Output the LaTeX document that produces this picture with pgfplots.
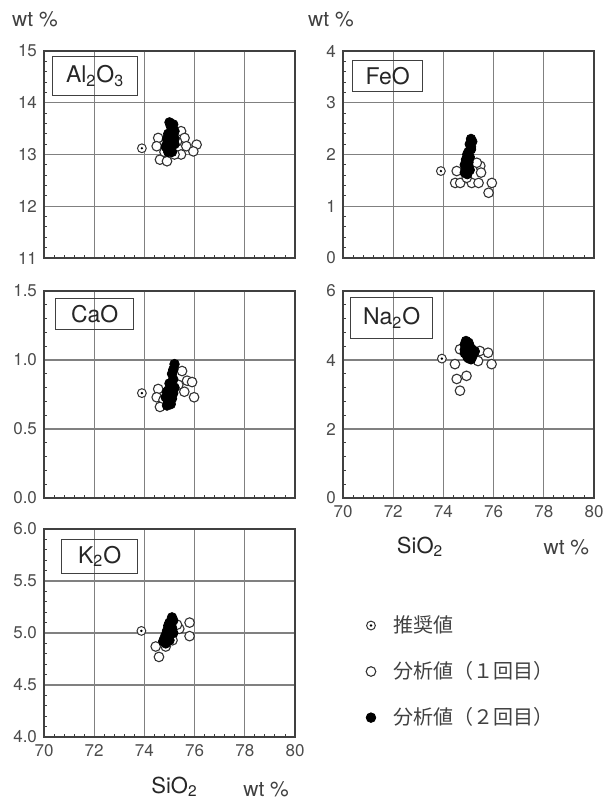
\documentclass[border=0pt]{standalone}
\usepackage{fontspec}
\setmainfont{TeX Gyre Heros}
\newfontfamily\jp{Noto Sans CJK JP}
\usepackage{pgfplots}
\pgfplotsset{compat=1.18}
\pgfdeclareplotmark{odot}{%
  \pgfpathcircle{\pgfpointorigin}{\pgfplotmarksize}\pgfusepathqfillstroke
  \pgfpathcircle{\pgfpointorigin}{0.3\pgfplotmarksize}\pgfsetfillcolor{black}\pgfusepathqfill}
\pgfplotsset{
  panel/.style={
    scale only axis, width=125.5pt, height=103.5pt, anchor=north west,
    xmin=70, xmax=80, xtick={70,72,...,80},
    minor x tick num=4, minor y tick num=4,
    grid=major, major grid style={black!50, line width=0.65pt},
    axis line style={black!75, line width=0.75pt},
    tick style={black!75, line width=0.45pt},
    tick align=inside, tick pos=left,
    major tick length=0pt, minor tick length=1.6pt,
    ticklabel style={font=\fontsize{8.5}{10}\selectfont, text=black!70},
    /pgf/number format/assume math mode=true,
    clip=false,
  },
  rec/.style={only marks, mark=odot, mark size=2.2pt, mark options={draw=black!80, fill=white, line width=0.5pt}},
  first/.style={only marks, mark=*, mark size=2.4pt, mark options={draw=black!80, fill=white, line width=0.55pt}},
  second/.style={only marks, mark=*, mark size=2.4pt, mark options={draw=black, fill=black}},
}
\tikzset{
  lab/.style={draw=black!75, line width=0.6pt, anchor=north west, inner sep=0pt, align=center, font=\fontsize{11.5}{13}\selectfont, text=black!85},
  unit/.style={font=\fontsize{10.5}{12}\selectfont, text=black!75},
}
\begin{document}
\begin{tikzpicture}
\path[use as bounding box] (0,0) rectangle (303pt,401pt);

% Al2O3
\begin{axis}[panel, at={(22pt,375.5pt)}, ymin=11, ymax=15, ytick={11,...,15}, xticklabels={}]
\addplot[rec] coordinates {(73.9,13.12)};
\addplot[first] coordinates {(74.55,13.32)(74.49,13.16)(74.62,12.9)(74.9,12.87)(75.46,13.45)(75.6,13.32)(75.67,13.16)(76.08,13.19)(75.95,13.06)(75.46,13.0)(75.2,13.0)(74.8,13.05)(75.3,13.25)};
\addplot[second] coordinates {(75.0,13.62)(75.15,13.58)(75.1,13.5)(75.2,13.45)(74.95,13.4)(75.15,13.35)(74.9,13.3)(75.05,13.25)(75.2,13.2)(74.85,13.15)(75.0,13.1)(75.1,13.05)(75.2,13.3)(74.9,13.2)(75.05,13.55)(75.05,13.4)(74.95,13.05)};
\node[lab, minimum width=42.5pt, minimum height=19.5pt] at (rel axis cs:0.032,0.976) {Al\textsubscript{2}O\textsubscript{3}};
\node[unit] at (rel axis cs:-0.036,1.155) {wt \%};
\end{axis}

% FeO
\begin{axis}[panel, at={(171.5pt,375.5pt)}, ymin=0, ymax=4, ytick={0,...,4}, xticklabels={}]
\addplot[rec] coordinates {(73.9,1.68)};
\addplot[first] coordinates {(74.53,1.68)(74.47,1.45)(74.67,1.45)(75.13,1.45)(75.4,1.45)(75.47,1.78)(75.8,1.26)(75.93,1.45)(74.93,1.55)(75.33,1.84)(75.5,1.65)};
\addplot[second] coordinates {(75.1,2.3)(75.15,2.25)(75.05,2.2)(75.1,2.1)(74.95,2.0)(75.05,1.95)(74.9,1.9)(75.0,1.85)(74.85,1.8)(75.0,1.75)(74.9,1.7)(74.85,1.65)(75.05,1.7)(74.95,1.62)(75.1,2.15)(75.0,2.05)};
\node[lab, minimum width=35pt, minimum height=15.5pt] at (rel axis cs:0.036,0.957) {FeO};
\node[unit] at (rel axis cs:-0.048,1.155) {wt \%};
\end{axis}

% CaO
\begin{axis}[panel, at={(22pt,255.5pt)}, ymin=0, ymax=1.5, ytick={0,0.5,1.0,1.5}, xticklabels={},
  yticklabel style={/pgf/number format/fixed, /pgf/number format/fixed zerofill, /pgf/number format/precision=1}]
\addplot[rec] coordinates {(73.9,0.76)};
\addplot[first] coordinates {(74.55,0.79)(74.49,0.73)(75.5,0.92)(75.7,0.85)(75.9,0.84)(75.98,0.73)(75.59,0.77)(74.76,0.71)(74.62,0.66)(75.35,0.82)};
\addplot[second] coordinates {(75.2,0.97)(75.15,0.93)(75.1,0.9)(75.15,0.86)(75.0,0.83)(75.1,0.8)(74.95,0.78)(75.05,0.75)(74.85,0.73)(75.1,0.72)(74.95,0.7)(74.9,0.67)(75.05,0.68)(75.2,0.8)(75.15,0.76)(74.9,0.77)};
\node[lab, minimum width=39pt, minimum height=15.5pt] at (rel axis cs:0.044,0.966) {CaO};
\end{axis}

% Na2O
\begin{axis}[panel, at={(171.5pt,255.5pt)}, ymin=0, ymax=6, ytick={0,2,4,6}]
\addplot[rec] coordinates {(73.94,4.04)};
\addplot[first] coordinates {(74.46,3.88)(74.92,3.54)(74.53,3.45)(74.66,3.11)(75.38,3.97)(75.45,4.26)(75.78,4.21)(75.92,3.88)(74.66,4.31)};
\addplot[second] coordinates {(74.9,4.55)(75.0,4.5)(74.85,4.45)(75.05,4.4)(74.95,4.35)(75.15,4.3)(75.0,4.25)(74.85,4.2)(75.2,4.2)(75.05,4.15)(74.95,4.1)(75.15,4.1)(75.0,4.05)(75.25,4.25)(74.85,4.3)(75.1,4.02)};
\node[lab, minimum width=41pt, minimum height=20.5pt] at (rel axis cs:0.028,0.971) {Na\textsubscript{2}O};
\node[font=\fontsize{11}{13}\selectfont, text=black!85] at ([yshift=-24.5pt]rel axis cs:0.307,0) {SiO\textsubscript{2}};
\node[unit] at ([yshift=-24.5pt]rel axis cs:0.89,0) {wt \%};
\end{axis}

% K2O
\begin{axis}[panel, at={(22pt,136.5pt)}, height=104pt, ymin=4, ymax=6, ytick={4,4.5,5,5.5,6},
  yticklabel style={/pgf/number format/fixed, /pgf/number format/fixed zerofill, /pgf/number format/precision=1},
  legend style={at={(rel axis cs:1.25,0.624)}, anchor=north west, draw=none, fill=none,
    font=\jp\fontsize{10}{12}\selectfont, text=black!75, row sep=9pt},
  legend cell align=left,
  legend image code/.code={\draw[#1] plot coordinates {(0.12cm,0cm)}; \path[draw=none] (0pt,0pt) -- (12.5pt,0pt);}]
\addplot[rec] coordinates {(73.88,5.02)};
\addlegendentry{推奨値}
\addplot[first] coordinates {(75.8,5.1)(75.8,4.97)(74.58,4.77)(74.45,4.87)(75.39,5.04)(74.85,4.87)(75.12,4.93)(75.3,5.08)};
\addlegendentry{分析値（１回目）}
\addplot[second] coordinates {(75.1,5.15)(75.15,5.12)(75.0,5.1)(74.95,5.07)(75.1,5.05)(74.9,5.02)(75.05,5.0)(74.85,4.98)(74.95,4.97)(75.15,5.0)(74.8,4.95)(74.9,4.92)(75.0,4.93)(74.85,4.9)(74.75,4.92)(75.05,5.08)};
\addlegendentry{分析値（２回目）}
\node[lab, minimum width=38pt, minimum height=17pt] at (rel axis cs:0.068,0.952) {K\textsubscript{2}O};
\node[font=\fontsize{11}{13}\selectfont, text=black!85] at ([yshift=-25pt]rel axis cs:0.52,0) {SiO\textsubscript{2}};
\node[unit] at ([yshift=-26pt]rel axis cs:0.885,0) {wt \%};
\end{axis}
\end{tikzpicture}
\end{document}
